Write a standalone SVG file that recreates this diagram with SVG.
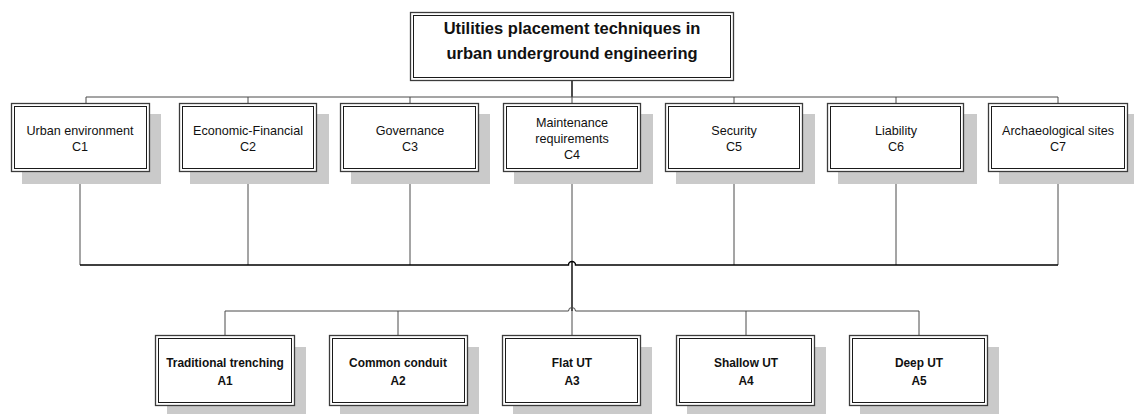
<svg xmlns="http://www.w3.org/2000/svg" width="1134" height="414" viewBox="0 0 1134 414">
<style>
.bg{fill:#ffffff}
.sh{fill:#cacaca}
.bo{fill:#ffffff;stroke:#3c3c3c;stroke-width:1.3}
.bi{fill:none;stroke:#1a1a1a;stroke-width:1}
.t{font-family:"Liberation Sans",Arial,sans-serif;font-size:12.6px;fill:#111;text-anchor:middle}
.tb{font-family:"Liberation Sans",Arial,sans-serif;font-size:11.9px;font-weight:bold;fill:#111;text-anchor:middle}
.tt{font-family:"Liberation Sans",Arial,sans-serif;font-size:16.5px;font-weight:bold;fill:#111;text-anchor:middle}
.c{fill:none;stroke:#4a4a4a;stroke-width:1}
.ck{fill:none;stroke:#000;stroke-width:1.4}
</style>
<rect class="bg" x="0" y="0" width="1134" height="414"/>
<g id="connectors">
<path class="ck" d="M572,80 V97"/>
<path class="c" d="M86,103 V97 H1058 V103"/>
<path class="c" d="M248,97 V103 M410,97 V103 M572,97 V103 M734,97 V103 M896,97 V103"/>
<path class="c" d="M80,172 V265 M248,172 V265 M410,172 V265 M572,172 V262 M734,172 V265 M896,172 V265 M1058,172 V265"/>
<path class="ck" d="M80,265 H568.5 A3.5,3.5 0 0 1 575.5,265 H1058"/>
<path class="ck" d="M572,262 V311"/>
<path class="c" d="M225,336 V311 H568.5 A3.5,3.5 0 0 1 575.5,311 H919 V336"/>
<path class="c" d="M398,311 V336 M572,311 V336 M746,311 V336"/>
</g>
<g id="root">
<rect class="bo" x="410.5" y="12.5" width="323" height="68"/>
<rect class="bi" x="413.5" y="15.5" width="317" height="62"/>
<text class="tt" x="572" y="34">Utilities placement techniques in</text>
<text class="tt" x="572" y="59">urban underground engineering</text>
</g>
<g id="C1">
<rect class="sh" x="22" y="114" width="139" height="70"/>
<rect class="bo" x="11.5" y="103.5" width="138" height="68"/>
<rect class="bi" x="14.5" y="106.5" width="132" height="62"/>
<text class="t" x="80" y="134.5">Urban environment</text>
<text class="t" x="80" y="150.5">C1</text>
</g>
<g id="C2">
<rect class="sh" x="190" y="114" width="139" height="70"/>
<rect class="bo" x="179.5" y="103.5" width="137" height="68"/>
<rect class="bi" x="182.5" y="106.5" width="131" height="62"/>
<text class="t" x="248" y="134.5">Economic-Financial</text>
<text class="t" x="248" y="150.5">C2</text>
</g>
<g id="C3">
<rect class="sh" x="351" y="114" width="139" height="70"/>
<rect class="bo" x="340.5" y="103.5" width="138" height="68"/>
<rect class="bi" x="343.5" y="106.5" width="132" height="62"/>
<text class="t" x="410" y="134.5">Governance</text>
<text class="t" x="410" y="150.5">C3</text>
</g>
<g id="C4">
<rect class="sh" x="514" y="114" width="139" height="70"/>
<rect class="bo" x="503.5" y="103.5" width="137" height="68"/>
<rect class="bi" x="506.5" y="106.5" width="131" height="62"/>
<text class="t" x="572" y="127">Maintenance</text>
<text class="t" x="572" y="142.5">requirements</text>
<text class="t" x="572" y="158.5">C4</text>
</g>
<g id="C5">
<rect class="sh" x="676" y="114" width="139" height="70"/>
<rect class="bo" x="665.5" y="103.5" width="137" height="68"/>
<rect class="bi" x="668.5" y="106.5" width="131" height="62"/>
<text class="t" x="734" y="134.5">Security</text>
<text class="t" x="734" y="150.5">C5</text>
</g>
<g id="C6">
<rect class="sh" x="838" y="114" width="139" height="70"/>
<rect class="bo" x="827.5" y="103.5" width="136" height="68"/>
<rect class="bi" x="830.5" y="106.5" width="130" height="62"/>
<text class="t" x="896" y="134.5">Liability</text>
<text class="t" x="896" y="150.5">C6</text>
</g>
<g id="C7">
<rect class="sh" x="999" y="114" width="139" height="70"/>
<rect class="bo" x="988.5" y="103.5" width="139" height="68"/>
<rect class="bi" x="991.5" y="106.5" width="133" height="62"/>
<text class="t" x="1058" y="134.5">Archaeological sites</text>
<text class="t" x="1058" y="150.5">C7</text>
</g>
<g id="A1">
<rect class="sh" x="167" y="347" width="139" height="70"/>
<rect class="bo" x="155.5" y="335.5" width="139" height="70"/>
<rect class="bi" x="158.5" y="338.5" width="133" height="64"/>
<text class="tb" x="225" y="367">Traditional trenching</text>
<text class="tb" x="225" y="384.5">A1</text>
</g>
<g id="A2">
<rect class="sh" x="340" y="347" width="139" height="70"/>
<rect class="bo" x="329.5" y="335.5" width="138" height="70"/>
<rect class="bi" x="332.5" y="338.5" width="132" height="64"/>
<text class="tb" x="398" y="367">Common conduit</text>
<text class="tb" x="398" y="384.5">A2</text>
</g>
<g id="A3">
<rect class="sh" x="513" y="347" width="139" height="70"/>
<rect class="bo" x="502.5" y="335.5" width="138" height="70"/>
<rect class="bi" x="505.5" y="338.5" width="132" height="64"/>
<text class="tb" x="572" y="367">Flat UT</text>
<text class="tb" x="572" y="384.5">A3</text>
</g>
<g id="A4">
<rect class="sh" x="687" y="347" width="139" height="70"/>
<rect class="bo" x="676.5" y="335.5" width="138" height="70"/>
<rect class="bi" x="679.5" y="338.5" width="132" height="64"/>
<text class="tb" x="746" y="367">Shallow UT</text>
<text class="tb" x="746" y="384.5">A4</text>
</g>
<g id="A5">
<rect class="sh" x="860" y="347" width="139" height="70"/>
<rect class="bo" x="849.5" y="335.5" width="138" height="70"/>
<rect class="bi" x="852.5" y="338.5" width="132" height="64"/>
<text class="tb" x="919" y="367">Deep UT</text>
<text class="tb" x="919" y="384.5">A5</text>
</g>
</svg>
